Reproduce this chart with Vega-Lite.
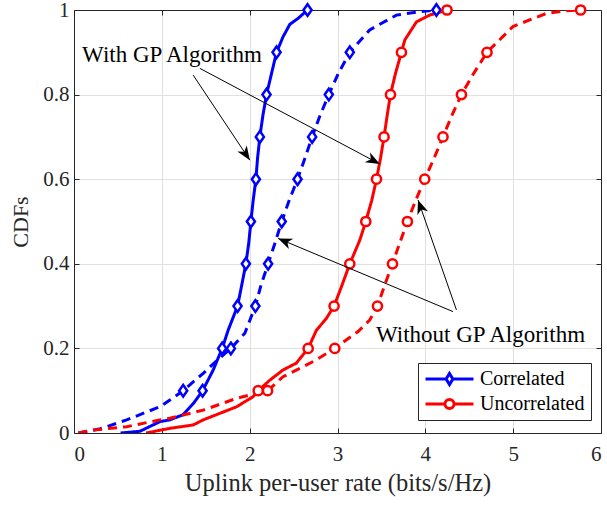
{
  "$schema": "https://vega.github.io/schema/vega-lite/v6.json",
  "width": 527,
  "height": 423,
  "autosize": {"type": "none"},
  "padding": {"left": 74, "top": 10, "right": 6, "bottom": 72},
  "background": "white",
  "config": {
    "font": "Liberation Serif",
    "view": {"stroke": null},
    "axis": {
      "domainColor": "#262626",
      "domainWidth": 1,
      "tickColor": "#262626",
      "tickWidth": 1,
      "tickSize": -5,
      "gridColor": "#e0e0e0",
      "gridWidth": 1,
      "labelFont": "Liberation Serif",
      "labelFontSize": 21,
      "labelColor": "#262626",
      "titleFont": "Liberation Serif",
      "titleFontSize": 24.5,
      "titleFontWeight": "normal",
      "titleColor": "#262626"
    }
  },
  "datasets": {
    "curves": [
      {"channel": "Correlated", "scheme": "With GP", "rate": 0.53, "cdf": 0},
      {"channel": "Correlated", "scheme": "With GP", "rate": 0.75, "cdf": 0.004},
      {"channel": "Correlated", "scheme": "With GP", "rate": 0.98, "cdf": 0.027},
      {"channel": "Correlated", "scheme": "With GP", "rate": 1.09, "cdf": 0.031},
      {"channel": "Correlated", "scheme": "With GP", "rate": 1.24, "cdf": 0.043},
      {"channel": "Correlated", "scheme": "With GP", "rate": 1.36, "cdf": 0.07},
      {"channel": "Correlated", "scheme": "With GP", "rate": 1.464, "cdf": 0.1},
      {"channel": "Correlated", "scheme": "With GP", "rate": 1.585, "cdf": 0.149},
      {"channel": "Correlated", "scheme": "With GP", "rate": 1.687, "cdf": 0.2},
      {"channel": "Correlated", "scheme": "With GP", "rate": 1.755, "cdf": 0.243},
      {"channel": "Correlated", "scheme": "With GP", "rate": 1.862, "cdf": 0.3},
      {"channel": "Correlated", "scheme": "With GP", "rate": 1.91, "cdf": 0.35},
      {"channel": "Correlated", "scheme": "With GP", "rate": 1.957, "cdf": 0.4},
      {"channel": "Correlated", "scheme": "With GP", "rate": 1.99, "cdf": 0.45},
      {"channel": "Correlated", "scheme": "With GP", "rate": 2.014, "cdf": 0.5},
      {"channel": "Correlated", "scheme": "With GP", "rate": 2.04, "cdf": 0.55},
      {"channel": "Correlated", "scheme": "With GP", "rate": 2.071, "cdf": 0.6},
      {"channel": "Correlated", "scheme": "With GP", "rate": 2.09, "cdf": 0.65},
      {"channel": "Correlated", "scheme": "With GP", "rate": 2.116, "cdf": 0.7},
      {"channel": "Correlated", "scheme": "With GP", "rate": 2.15, "cdf": 0.75},
      {"channel": "Correlated", "scheme": "With GP", "rate": 2.192, "cdf": 0.8},
      {"channel": "Correlated", "scheme": "With GP", "rate": 2.249, "cdf": 0.85},
      {"channel": "Correlated", "scheme": "With GP", "rate": 2.306, "cdf": 0.9},
      {"channel": "Correlated", "scheme": "With GP", "rate": 2.381, "cdf": 0.937},
      {"channel": "Correlated", "scheme": "With GP", "rate": 2.457, "cdf": 0.966},
      {"channel": "Correlated", "scheme": "With GP", "rate": 2.55, "cdf": 0.98},
      {"channel": "Correlated", "scheme": "With GP", "rate": 2.659, "cdf": 1.0},

      {"channel": "Correlated", "scheme": "Without GP", "rate": 0.05, "cdf": 0},
      {"channel": "Correlated", "scheme": "Without GP", "rate": 0.3, "cdf": 0.01},
      {"channel": "Correlated", "scheme": "Without GP", "rate": 0.6, "cdf": 0.031},
      {"channel": "Correlated", "scheme": "Without GP", "rate": 0.978, "cdf": 0.062},
      {"channel": "Correlated", "scheme": "Without GP", "rate": 1.092, "cdf": 0.078},
      {"channel": "Correlated", "scheme": "Without GP", "rate": 1.243, "cdf": 0.1},
      {"channel": "Correlated", "scheme": "Without GP", "rate": 1.357, "cdf": 0.121},
      {"channel": "Correlated", "scheme": "Without GP", "rate": 1.471, "cdf": 0.141},
      {"channel": "Correlated", "scheme": "Without GP", "rate": 1.62, "cdf": 0.17},
      {"channel": "Correlated", "scheme": "Without GP", "rate": 1.786, "cdf": 0.2},
      {"channel": "Correlated", "scheme": "Without GP", "rate": 1.945, "cdf": 0.236},
      {"channel": "Correlated", "scheme": "Without GP", "rate": 2.065, "cdf": 0.3},
      {"channel": "Correlated", "scheme": "Without GP", "rate": 2.13, "cdf": 0.35},
      {"channel": "Correlated", "scheme": "Without GP", "rate": 2.21, "cdf": 0.4},
      {"channel": "Correlated", "scheme": "Without GP", "rate": 2.29, "cdf": 0.45},
      {"channel": "Correlated", "scheme": "Without GP", "rate": 2.365, "cdf": 0.5},
      {"channel": "Correlated", "scheme": "Without GP", "rate": 2.45, "cdf": 0.55},
      {"channel": "Correlated", "scheme": "Without GP", "rate": 2.545, "cdf": 0.6},
      {"channel": "Correlated", "scheme": "Without GP", "rate": 2.63, "cdf": 0.65},
      {"channel": "Correlated", "scheme": "Without GP", "rate": 2.711, "cdf": 0.7},
      {"channel": "Correlated", "scheme": "Without GP", "rate": 2.8, "cdf": 0.75},
      {"channel": "Correlated", "scheme": "Without GP", "rate": 2.901, "cdf": 0.8},
      {"channel": "Correlated", "scheme": "Without GP", "rate": 3.01, "cdf": 0.85},
      {"channel": "Correlated", "scheme": "Without GP", "rate": 3.14, "cdf": 0.9},
      {"channel": "Correlated", "scheme": "Without GP", "rate": 3.367, "cdf": 0.953},
      {"channel": "Correlated", "scheme": "Without GP", "rate": 3.671, "cdf": 0.988},
      {"channel": "Correlated", "scheme": "Without GP", "rate": 3.936, "cdf": 0.996},
      {"channel": "Correlated", "scheme": "Without GP", "rate": 4.126, "cdf": 1.0},

      {"channel": "Uncorrelated", "scheme": "With GP", "rate": 0.82, "cdf": 0},
      {"channel": "Uncorrelated", "scheme": "With GP", "rate": 1.092, "cdf": 0.011},
      {"channel": "Uncorrelated", "scheme": "With GP", "rate": 1.357, "cdf": 0.019},
      {"channel": "Uncorrelated", "scheme": "With GP", "rate": 1.471, "cdf": 0.031},
      {"channel": "Uncorrelated", "scheme": "With GP", "rate": 1.851, "cdf": 0.062},
      {"channel": "Uncorrelated", "scheme": "With GP", "rate": 2.04, "cdf": 0.086},
      {"channel": "Uncorrelated", "scheme": "With GP", "rate": 2.097, "cdf": 0.1},
      {"channel": "Uncorrelated", "scheme": "With GP", "rate": 2.23, "cdf": 0.125},
      {"channel": "Uncorrelated", "scheme": "With GP", "rate": 2.38, "cdf": 0.149},
      {"channel": "Uncorrelated", "scheme": "With GP", "rate": 2.53, "cdf": 0.165},
      {"channel": "Uncorrelated", "scheme": "With GP", "rate": 2.666, "cdf": 0.2},
      {"channel": "Uncorrelated", "scheme": "With GP", "rate": 2.76, "cdf": 0.243},
      {"channel": "Uncorrelated", "scheme": "With GP", "rate": 2.87, "cdf": 0.27},
      {"channel": "Uncorrelated", "scheme": "With GP", "rate": 2.961, "cdf": 0.3},
      {"channel": "Uncorrelated", "scheme": "With GP", "rate": 3.045, "cdf": 0.346},
      {"channel": "Uncorrelated", "scheme": "With GP", "rate": 3.14, "cdf": 0.4},
      {"channel": "Uncorrelated", "scheme": "With GP", "rate": 3.254, "cdf": 0.456},
      {"channel": "Uncorrelated", "scheme": "With GP", "rate": 3.322, "cdf": 0.5},
      {"channel": "Uncorrelated", "scheme": "With GP", "rate": 3.39, "cdf": 0.55},
      {"channel": "Uncorrelated", "scheme": "With GP", "rate": 3.444, "cdf": 0.6},
      {"channel": "Uncorrelated", "scheme": "With GP", "rate": 3.49, "cdf": 0.65},
      {"channel": "Uncorrelated", "scheme": "With GP", "rate": 3.53, "cdf": 0.7},
      {"channel": "Uncorrelated", "scheme": "With GP", "rate": 3.565, "cdf": 0.75},
      {"channel": "Uncorrelated", "scheme": "With GP", "rate": 3.603, "cdf": 0.8},
      {"channel": "Uncorrelated", "scheme": "With GP", "rate": 3.66, "cdf": 0.85},
      {"channel": "Uncorrelated", "scheme": "With GP", "rate": 3.728, "cdf": 0.9},
      {"channel": "Uncorrelated", "scheme": "With GP", "rate": 3.766, "cdf": 0.929},
      {"channel": "Uncorrelated", "scheme": "With GP", "rate": 3.899, "cdf": 0.972},
      {"channel": "Uncorrelated", "scheme": "With GP", "rate": 4.05, "cdf": 0.988},
      {"channel": "Uncorrelated", "scheme": "With GP", "rate": 4.247, "cdf": 1.0},

      {"channel": "Uncorrelated", "scheme": "Without GP", "rate": 0.05, "cdf": 0},
      {"channel": "Uncorrelated", "scheme": "Without GP", "rate": 0.22, "cdf": 0.007},
      {"channel": "Uncorrelated", "scheme": "Without GP", "rate": 0.6, "cdf": 0.015},
      {"channel": "Uncorrelated", "scheme": "Without GP", "rate": 0.978, "cdf": 0.031},
      {"channel": "Uncorrelated", "scheme": "Without GP", "rate": 1.092, "cdf": 0.035},
      {"channel": "Uncorrelated", "scheme": "Without GP", "rate": 1.471, "cdf": 0.054},
      {"channel": "Uncorrelated", "scheme": "Without GP", "rate": 1.851, "cdf": 0.082},
      {"channel": "Uncorrelated", "scheme": "Without GP", "rate": 2.204, "cdf": 0.1},
      {"channel": "Uncorrelated", "scheme": "Without GP", "rate": 2.38, "cdf": 0.133},
      {"channel": "Uncorrelated", "scheme": "Without GP", "rate": 2.61, "cdf": 0.157},
      {"channel": "Uncorrelated", "scheme": "Without GP", "rate": 2.76, "cdf": 0.173},
      {"channel": "Uncorrelated", "scheme": "Without GP", "rate": 2.969, "cdf": 0.2},
      {"channel": "Uncorrelated", "scheme": "Without GP", "rate": 3.234, "cdf": 0.24},
      {"channel": "Uncorrelated", "scheme": "Without GP", "rate": 3.367, "cdf": 0.267},
      {"channel": "Uncorrelated", "scheme": "Without GP", "rate": 3.455, "cdf": 0.3},
      {"channel": "Uncorrelated", "scheme": "Without GP", "rate": 3.538, "cdf": 0.35},
      {"channel": "Uncorrelated", "scheme": "Without GP", "rate": 3.626, "cdf": 0.4},
      {"channel": "Uncorrelated", "scheme": "Without GP", "rate": 3.71, "cdf": 0.45},
      {"channel": "Uncorrelated", "scheme": "Without GP", "rate": 3.796, "cdf": 0.5},
      {"channel": "Uncorrelated", "scheme": "Without GP", "rate": 3.89, "cdf": 0.55},
      {"channel": "Uncorrelated", "scheme": "Without GP", "rate": 3.993, "cdf": 0.6},
      {"channel": "Uncorrelated", "scheme": "Without GP", "rate": 4.1, "cdf": 0.65},
      {"channel": "Uncorrelated", "scheme": "Without GP", "rate": 4.201, "cdf": 0.7},
      {"channel": "Uncorrelated", "scheme": "Without GP", "rate": 4.3, "cdf": 0.75},
      {"channel": "Uncorrelated", "scheme": "Without GP", "rate": 4.411, "cdf": 0.8},
      {"channel": "Uncorrelated", "scheme": "Without GP", "rate": 4.55, "cdf": 0.85},
      {"channel": "Uncorrelated", "scheme": "Without GP", "rate": 4.702, "cdf": 0.9},
      {"channel": "Uncorrelated", "scheme": "Without GP", "rate": 4.998, "cdf": 0.961},
      {"channel": "Uncorrelated", "scheme": "Without GP", "rate": 5.378, "cdf": 0.992},
      {"channel": "Uncorrelated", "scheme": "Without GP", "rate": 5.605, "cdf": 0.998},
      {"channel": "Uncorrelated", "scheme": "Without GP", "rate": 5.768, "cdf": 1.0}
    ],
    "markers": [
      {"channel": "Correlated", "scheme": "With GP", "rate": 1.464, "cdf": 0.1},
      {"channel": "Correlated", "scheme": "With GP", "rate": 1.687, "cdf": 0.2},
      {"channel": "Correlated", "scheme": "With GP", "rate": 1.862, "cdf": 0.3},
      {"channel": "Correlated", "scheme": "With GP", "rate": 1.957, "cdf": 0.4},
      {"channel": "Correlated", "scheme": "With GP", "rate": 2.014, "cdf": 0.5},
      {"channel": "Correlated", "scheme": "With GP", "rate": 2.071, "cdf": 0.6},
      {"channel": "Correlated", "scheme": "With GP", "rate": 2.116, "cdf": 0.7},
      {"channel": "Correlated", "scheme": "With GP", "rate": 2.192, "cdf": 0.8},
      {"channel": "Correlated", "scheme": "With GP", "rate": 2.306, "cdf": 0.9},
      {"channel": "Correlated", "scheme": "With GP", "rate": 2.659, "cdf": 1.0},
      {"channel": "Correlated", "scheme": "Without GP", "rate": 1.243, "cdf": 0.1},
      {"channel": "Correlated", "scheme": "Without GP", "rate": 1.786, "cdf": 0.2},
      {"channel": "Correlated", "scheme": "Without GP", "rate": 2.065, "cdf": 0.3},
      {"channel": "Correlated", "scheme": "Without GP", "rate": 2.21, "cdf": 0.4},
      {"channel": "Correlated", "scheme": "Without GP", "rate": 2.365, "cdf": 0.5},
      {"channel": "Correlated", "scheme": "Without GP", "rate": 2.545, "cdf": 0.6},
      {"channel": "Correlated", "scheme": "Without GP", "rate": 2.711, "cdf": 0.7},
      {"channel": "Correlated", "scheme": "Without GP", "rate": 2.901, "cdf": 0.8},
      {"channel": "Correlated", "scheme": "Without GP", "rate": 3.14, "cdf": 0.9},
      {"channel": "Correlated", "scheme": "Without GP", "rate": 4.126, "cdf": 1.0},
      {"channel": "Uncorrelated", "scheme": "With GP", "rate": 2.097, "cdf": 0.1},
      {"channel": "Uncorrelated", "scheme": "With GP", "rate": 2.666, "cdf": 0.2},
      {"channel": "Uncorrelated", "scheme": "With GP", "rate": 2.961, "cdf": 0.3},
      {"channel": "Uncorrelated", "scheme": "With GP", "rate": 3.14, "cdf": 0.4},
      {"channel": "Uncorrelated", "scheme": "With GP", "rate": 3.322, "cdf": 0.5},
      {"channel": "Uncorrelated", "scheme": "With GP", "rate": 3.444, "cdf": 0.6},
      {"channel": "Uncorrelated", "scheme": "With GP", "rate": 3.53, "cdf": 0.7},
      {"channel": "Uncorrelated", "scheme": "With GP", "rate": 3.603, "cdf": 0.8},
      {"channel": "Uncorrelated", "scheme": "With GP", "rate": 3.728, "cdf": 0.9},
      {"channel": "Uncorrelated", "scheme": "With GP", "rate": 4.247, "cdf": 1.0},
      {"channel": "Uncorrelated", "scheme": "Without GP", "rate": 2.204, "cdf": 0.1},
      {"channel": "Uncorrelated", "scheme": "Without GP", "rate": 2.969, "cdf": 0.2},
      {"channel": "Uncorrelated", "scheme": "Without GP", "rate": 3.455, "cdf": 0.3},
      {"channel": "Uncorrelated", "scheme": "Without GP", "rate": 3.626, "cdf": 0.4},
      {"channel": "Uncorrelated", "scheme": "Without GP", "rate": 3.796, "cdf": 0.5},
      {"channel": "Uncorrelated", "scheme": "Without GP", "rate": 3.993, "cdf": 0.6},
      {"channel": "Uncorrelated", "scheme": "Without GP", "rate": 4.201, "cdf": 0.7},
      {"channel": "Uncorrelated", "scheme": "Without GP", "rate": 4.411, "cdf": 0.8},
      {"channel": "Uncorrelated", "scheme": "Without GP", "rate": 4.702, "cdf": 0.9},
      {"channel": "Uncorrelated", "scheme": "Without GP", "rate": 5.768, "cdf": 1.0}
    ],
    "arrows": [
      {"id": "a1", "rate": 1.357, "cdf": 0.846, "rate_end": 2.002, "cdf_end": 0.645},
      {"id": "a2", "rate": 1.433, "cdf": 0.862, "rate_end": 3.481, "cdf_end": 0.636},
      {"id": "a3", "rate": 4.315, "cdf": 0.287, "rate_end": 2.324, "cdf_end": 0.46},
      {"id": "a4", "rate": 4.354, "cdf": 0.291, "rate_end": 3.917, "cdf_end": 0.551}
    ],
    "notes": [
      {"label": "With GP Algorithm", "rate": 1.115, "cdf": 0.894},
      {"label": "Without GP Algorithm", "rate": 4.628, "cdf": 0.232}
    ]
  },
  "resolve": {
    "scale": {"color": "independent", "shape": "independent", "size": "independent"},
    "axis": {"x": "independent", "y": "independent"}
  },
  "layer": [
    {
      "data": {"name": "curves"},
      "mark": {"type": "line", "strokeWidth": 3, "clip": true},
      "encoding": {
        "x": {
          "field": "rate", "type": "quantitative",
          "scale": {"domain": [0, 6], "nice": false},
          "axis": {
            "orient": "bottom", "values": [0, 1, 2, 3, 4, 5, 6], "format": "d",
            "grid": true, "labelPadding": 15, "labelBaseline": "top",
            "title": "Uplink per-user rate (bits/s/Hz)", "titlePadding": 7
          }
        },
        "y": {
          "field": "cdf", "type": "quantitative",
          "scale": {"domain": [0, 1], "nice": false},
          "axis": {
            "orient": "left", "values": [0, 0.2, 0.4, 0.6, 0.8, 1], "format": "~g",
            "grid": true, "labelPadding": 10, "title": "CDFs", "titlePadding": 10,
            "titleFontSize": 22
          }
        },
        "color": {
          "field": "channel", "type": "nominal",
          "scale": {"domain": ["Correlated", "Uncorrelated"], "range": ["#0000ff", "#ff0000"]},
          "legend": null
        },
        "strokeDash": {
          "field": "scheme", "type": "nominal",
          "scale": {"domain": ["With GP", "Without GP"], "range": [[1, 0], [9, 6]]},
          "legend": null
        }
      }
    },
    {
      "data": {"name": "markers"},
      "mark": {"type": "point", "filled": false, "fill": "white", "strokeWidth": 2.5, "opacity": 1},
      "encoding": {
        "x": {"field": "rate", "type": "quantitative", "axis": null},
        "y": {"field": "cdf", "type": "quantitative", "axis": null},
        "color": {
          "field": "channel", "type": "nominal",
          "scale": {"domain": ["Correlated", "Uncorrelated"], "range": ["#0000ff", "#ff0000"]},
          "legend": null
        },
        "shape": {
          "field": "channel", "type": "nominal",
          "scale": {"domain": ["Correlated", "Uncorrelated"], "range": ["M0,-1L0.7,0L0,1L-0.7,0Z", "circle"]},
          "legend": null
        },
        "size": {
          "field": "channel", "type": "nominal",
          "scale": {"domain": ["Correlated", "Uncorrelated"], "range": [135, 85]},
          "legend": null
        }
      }
    },
    {
      "data": {"name": "arrows"},
      "mark": {"type": "rule", "color": "black", "strokeWidth": 1},
      "encoding": {
        "x": {"field": "rate", "type": "quantitative", "axis": null},
        "y": {"field": "cdf", "type": "quantitative", "axis": null},
        "x2": {"field": "rate_end"},
        "y2": {"field": "cdf_end"}
      }
    },
    {
      "data": {"name": "arrows"},
      "transform": [{"filter": "datum.id === 'a1'"}],
      "mark": {"type": "point", "shape": "M0,0L-0.4,1L0,0.72L0.4,1Z", "filled": true, "color": "black", "opacity": 1, "size": 784, "angle": 146.3},
      "encoding": {
        "x": {"field": "rate_end", "type": "quantitative", "axis": null},
        "y": {"field": "cdf_end", "type": "quantitative", "axis": null}
      }
    },
    {
      "data": {"name": "arrows"},
      "transform": [{"filter": "datum.id === 'a2'"}],
      "mark": {"type": "point", "shape": "M0,0L-0.4,1L0,0.72L0.4,1Z", "filled": true, "color": "black", "opacity": 1, "size": 784, "angle": 118.1},
      "encoding": {
        "x": {"field": "rate_end", "type": "quantitative", "axis": null},
        "y": {"field": "cdf_end", "type": "quantitative", "axis": null}
      }
    },
    {
      "data": {"name": "arrows"},
      "transform": [{"filter": "datum.id === 'a3'"}],
      "mark": {"type": "point", "shape": "M0,0L-0.4,1L0,0.72L0.4,1Z", "filled": true, "color": "black", "opacity": 1, "size": 784, "angle": 292.9},
      "encoding": {
        "x": {"field": "rate_end", "type": "quantitative", "axis": null},
        "y": {"field": "cdf_end", "type": "quantitative", "axis": null}
      }
    },
    {
      "data": {"name": "arrows"},
      "transform": [{"filter": "datum.id === 'a4'"}],
      "mark": {"type": "point", "shape": "M0,0L-0.4,1L0,0.72L0.4,1Z", "filled": true, "color": "black", "opacity": 1, "size": 784, "angle": 340.6},
      "encoding": {
        "x": {"field": "rate_end", "type": "quantitative", "axis": null},
        "y": {"field": "cdf_end", "type": "quantitative", "axis": null}
      }
    },
    {
      "data": {"name": "notes"},
      "mark": {"type": "text", "font": "Liberation Serif", "fontSize": 23, "color": "black", "align": "center", "baseline": "middle"},
      "encoding": {
        "x": {"field": "rate", "type": "quantitative", "axis": null},
        "y": {"field": "cdf", "type": "quantitative", "axis": null},
        "text": {"field": "label"}
      }
    },
    {
      "data": {"name": "markers"},
      "transform": [{"filter": "datum.cdf > 1"}],
      "mark": {"type": "point", "filled": false, "fill": "white", "strokeWidth": 3, "opacity": 1, "size": 2304},
      "encoding": {
        "x": {
          "field": "rate", "type": "quantitative",
          "axis": {"orient": "top", "values": [0, 1, 2, 3, 4, 5, 6], "labels": false, "grid": false, "title": null}
        },
        "y": {
          "field": "cdf", "type": "quantitative",
          "axis": {"orient": "right", "values": [0, 0.2, 0.4, 0.6, 0.8, 1], "labels": false, "grid": false, "title": null}
        },
        "color": {
          "field": "channel", "type": "nominal",
          "scale": {"domain": ["Correlated", "Uncorrelated"], "range": ["#0000ff", "#ff0000"]},
          "legend": {
            "title": null, "orient": "none", "legendX": 344, "legendY": 353,
            "padding": 6, "rowPadding": 5, "labelOffset": 5, "symbolOffset": 0,
            "clipHeight": 20,
            "strokeColor": "#262626", "fillColor": "white",
            "labelFont": "Liberation Serif", "labelFontSize": 20, "labelColor": "black", "labelLimit": 0,
            "symbolSize": 2304, "symbolStrokeWidth": 3, "symbolFillColor": "white",
            "labelExpr": "datum.label + '\u00a0\u00a0'"
          }
        },
        "shape": {
          "field": "channel", "type": "nominal",
          "scale": {
            "domain": ["Correlated", "Uncorrelated"],
            "range": [
              "M-1,0H-0.14M0.14,0H1M0,-0.23L0.14,0L0,0.23L-0.14,0Z",
              "M-1,0H-0.19M0.19,0H1M-0.19,0A0.19,0.19 0 1,1 0.19,0A0.19,0.19 0 1,1 -0.19,0Z"
            ]
          },
          "legend": {
            "title": null, "orient": "none", "legendX": 344, "legendY": 353,
            "padding": 6, "rowPadding": 5, "labelOffset": 5, "symbolOffset": 0,
            "clipHeight": 20,
            "strokeColor": "#262626", "fillColor": "white",
            "labelFont": "Liberation Serif", "labelFontSize": 20, "labelColor": "black", "labelLimit": 0,
            "symbolSize": 2304, "symbolStrokeWidth": 3, "symbolFillColor": "white",
            "labelExpr": "datum.label + '\u00a0\u00a0'"
          }
        }
      }
    }
  ]
}
